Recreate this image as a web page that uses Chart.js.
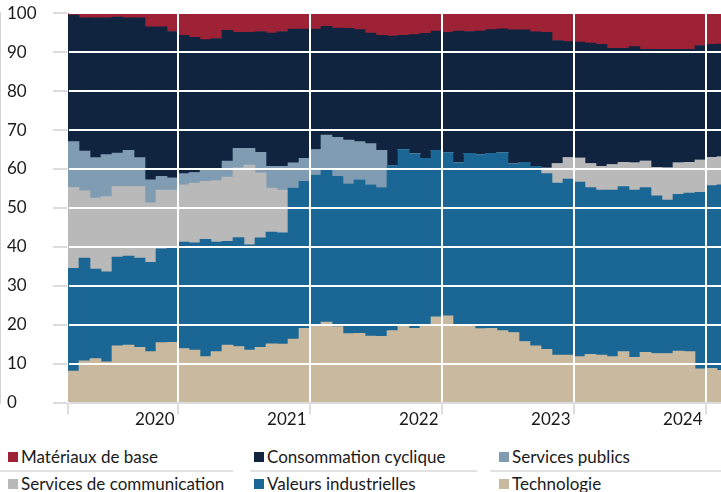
<!DOCTYPE html>
<html lang="fr">
<head>
<meta charset="utf-8">
<script src="https://cdn.jsdelivr.net/npm/chart.js@4.4.1/dist/chart.umd.min.js"></script>
<style>
  html, body { margin: 0; padding: 0; width: 721px; height: 492px; overflow: hidden; background: #fff; font-family: Lato, sans-serif; }
  #wrap { position: absolute; left: 0; top: 0; width: 728px; height: 425px; }
  .item { position: absolute; height: 26px; line-height: 26px; font-size: 17px; color: #1a1a1a; white-space: nowrap; }
  .item i { display: inline-block; width: 10px; height: 10px; margin-right: 3px; vertical-align: 1px; }
  .sep { position: absolute; top: 470px; height: 2px; background: #e2e2e2; }
</style>
</head>
<body>
<div id="wrap"><canvas id="chart"></canvas></div>
<div id="legend"></div>
<script>
const months = [
  '2019-03','2019-04','2019-05','2019-06','2019-07','2019-08','2019-09','2019-10','2019-11','2019-12',
  '2020-01','2020-02','2020-03','2020-04','2020-05','2020-06','2020-07','2020-08','2020-09','2020-10','2020-11','2020-12',
  '2021-01','2021-02','2021-03','2021-04','2021-05','2021-06','2021-07','2021-08','2021-09','2021-10','2021-11','2021-12',
  '2022-01','2022-02','2022-03','2022-04','2022-05','2022-06','2022-07','2022-08','2022-09','2022-10','2022-11','2022-12',
  '2023-01','2023-02','2023-03','2023-04','2023-05','2023-06','2023-07','2023-08','2023-09','2023-10','2023-11','2023-12',
  '2024-01','2024-02'
];
const yearTicks = ['2020', '2021', '2022', '2023', '2024'];

const technologie = [
  8.1, 10.7, 11.3, 10.5, 14.6, 14.8, 14.2, 13.1, 15.4, 15.5,
  13.9, 13.5, 11.8, 13.1, 14.8, 14.4, 13.5, 14.2, 15.1, 15.0, 16.3, 19.1,
  20.0, 20.7, 19.5, 17.7, 17.8, 17.1, 17.0, 18.5, 19.8, 19.1, 19.6, 22.0,
  22.3, 19.8, 19.6, 19.0, 19.1, 18.5, 18.0, 15.7, 14.6, 13.7, 12.2, 12.2,
  11.8, 12.4, 12.2, 11.8, 13.1, 11.6, 12.9, 12.6, 12.6, 13.2, 13.1, 8.7,
  8.8, 8.3
];
const valeursIndustrielles = [
  26.4, 26.4, 23.0, 23.1, 22.8, 22.8, 22.9, 22.9, 24.1, 24.4,
  27.3, 27.5, 30.1, 28.1, 26.6, 28.0, 27.0, 28.1, 28.7, 28.6, 38.8, 37.7,
  38.4, 39.3, 38.6, 38.5, 39.4, 38.8, 38.2, 42.4, 45.2, 44.8, 43.1, 42.8,
  41.9, 41.8, 44.4, 44.7, 44.9, 45.7, 43.3, 46.0, 46.1, 45.1, 44.2, 45.2,
  44.8, 42.8, 42.4, 42.8, 42.4, 43.0, 42.3, 40.5, 39.4, 40.3, 40.7, 45.3,
  46.9, 47.6
];
const servicesCommunication = [
  20.8, 17.3, 18.2, 19.3, 18.1, 17.9, 18.4, 15.3, 15.1, 14.7,
  14.7, 15.4, 14.9, 15.8, 16.5, 17.9, 20.5, 16.7, 11.3, 11.0, 0, 0,
  0, 0, 0, 0, 0, 0, 0, 0, 0, 0, 0, 0,
  0, 0, 0, 0, 0, 0, 0, 0, 0, 1.4, 5.0, 5.5,
  6.2, 6.2, 6.1, 6.5, 6.2, 7.0, 6.8, 7.3, 8.3, 8.1, 7.9, 8.3,
  7.3, 7.2
];
const servicesPublics = [
  11.7, 10.2, 10.4, 10.8, 8.6, 9.3, 7.4, 5.9, 3.5, 3.1,
  2.9, 2.7, 3.0, 2.8, 4.1, 5.0, 4.3, 5.3, 5.6, 6.1, 6.5, 5.9,
  6.6, 8.7, 10.0, 11.2, 9.8, 10.6, 9.6, 0, 0, 0, 0, 0,
  0, 0, 0, 0, 0, 0, 0, 0, 0, 0, 0, 0,
  0, 0, 0, 0, 0, 0, 0, 0, 0, 0, 0, 0,
  0, 0
];
const consommationCyclique = [
  32.5, 34.2, 35.9, 35.1, 34.9, 34.0, 35.9, 39.3, 38.4, 37.6,
  35.5, 34.7, 33.4, 33.7, 33.6, 29.8, 29.8, 31.0, 34.2, 34.6, 34.3, 33.2,
  30.9, 27.9, 28.1, 28.7, 28.8, 28.4, 29.5, 33.2, 29.3, 30.6, 32.1, 30.6,
  30.9, 33.8, 31.3, 31.7, 31.8, 31.8, 34.4, 34.0, 34.5, 34.9, 31.6, 29.8,
  29.8, 30.9, 31.3, 29.9, 29.3, 29.8, 28.7, 30.3, 30.4, 29.1, 29.0, 29.4,
  29.0, 29.0
];
const materiauxBase = [
  0.5, 1.2, 1.2, 1.2, 1.0, 1.2, 1.2, 3.5, 3.5, 4.7,
  5.7, 6.2, 6.8, 6.5, 4.4, 4.9, 4.9, 4.7, 5.1, 4.7, 4.1, 4.1,
  4.1, 3.4, 3.8, 3.9, 4.2, 5.1, 5.7, 5.9, 5.7, 5.5, 5.2, 4.6,
  4.9, 4.6, 4.7, 4.6, 4.2, 4.0, 4.3, 4.3, 4.8, 4.9, 7.0, 7.3,
  7.4, 7.7, 8.0, 9.0, 9.0, 8.6, 9.3, 9.3, 9.3, 9.3, 9.3, 8.3,
  8.0, 7.9
];

const series = [
  { label: 'Technologie', data: technologie, color: '#c9b99f' },
  { label: 'Valeurs industrielles', data: valeursIndustrielles, color: '#1a6796' },
  { label: 'Services de communication', data: servicesCommunication, color: '#b9b9b9' },
  { label: 'Services publics', data: servicesPublics, color: '#7f9cb2' },
  { label: 'Consommation cyclique', data: consommationCyclique, color: '#10233f' },
  { label: 'Matériaux de base', data: materiauxBase, color: '#9e2236' }
];

// html legend, same order as the picture
const legendItems = [
  { name: 'Matériaux de base', left: 8, top: 444 },
  { name: 'Consommation cyclique', left: 254, top: 444 },
  { name: 'Services publics', left: 499, top: 444 },
  { name: 'Services de communication', left: 8, top: 471 },
  { name: 'Valeurs industrielles', left: 254, top: 471 },
  { name: 'Technologie', left: 499, top: 471 }
];
const legend = document.getElementById('legend');
legendItems.forEach(it => {
  const s = series.find(d => d.label === it.name);
  const el = document.createElement('div');
  el.className = 'item';
  el.style.left = it.left + 'px';
  el.style.top = it.top + 'px';
  el.innerHTML = '<i style="background:' + s.color + '"></i>' + it.name;
  legend.appendChild(el);
});
[[0, 233], [250, 227], [490, 231]].forEach(([l, w]) => {
  const sep = document.createElement('div');
  sep.className = 'sep';
  sep.style.left = l + 'px';
  sep.style.width = w + 'px';
  legend.appendChild(sep);
});

const yearAt = i => months[i] ? yearTicks.find(y => months[i] === y + '-01') : undefined;
const tickFont = { family: 'Lato', size: 17 };

const ctx = document.getElementById('chart').getContext('2d');
new Chart(ctx, {
  type: 'bar',
  data: {
    labels: months,
    datasets: series.map(s => ({
      label: s.label,
      data: s.data,
      backgroundColor: s.color,
      borderWidth: 0,
      barPercentage: 1,
      categoryPercentage: 1
    }))
  },
  options: {
    responsive: true,
    maintainAspectRatio: false,
    animation: false,
    layout: { padding: { left: 7, top: 9, right: 0, bottom: 0 } },
    plugins: {
      legend: { display: false },
      tooltip: { enabled: false }
    },
    scales: {
      x: {
        stacked: true,
        border: { display: false },
        grid: {
          z: 1,
          offset: true,
          lineWidth: 2,
          color: c => yearAt(c.index) ? '#ffffff' : 'rgba(0,0,0,0)',
          tickColor: c => (yearAt(c.index) || c.index === 0) ? '#dcdcdc' : 'rgba(0,0,0,0)',
          tickLength: 12,
          tickWidth: 2
        },
        ticks: {
          autoSkip: false,
          maxRotation: 0,
          align: 'end',
          labelOffset: -9,
          padding: -5,
          color: '#1a1a1a',
          font: tickFont,
          callback: (v, i) => yearAt(i) || ''
        }
      },
      y: {
        stacked: true,
        min: 0,
        max: 100,
        border: { color: '#d4d4d4', width: 2 },
        grid: {
          z: 1,
          lineWidth: 2,
          color: c => c.tick && c.tick.value === 0 ? '#dcdcdc' : '#ffffff',
          tickColor: '#dcdcdc',
          tickLength: 15,
          tickWidth: 2
        },
        ticks: {
          stepSize: 10,
          crossAlign: 'far',
          color: '#1a1a1a',
          font: tickFont
        },
        afterFit: s => { s.width = 61; }
      }
    }
  }
});
</script>
</body>
</html>
